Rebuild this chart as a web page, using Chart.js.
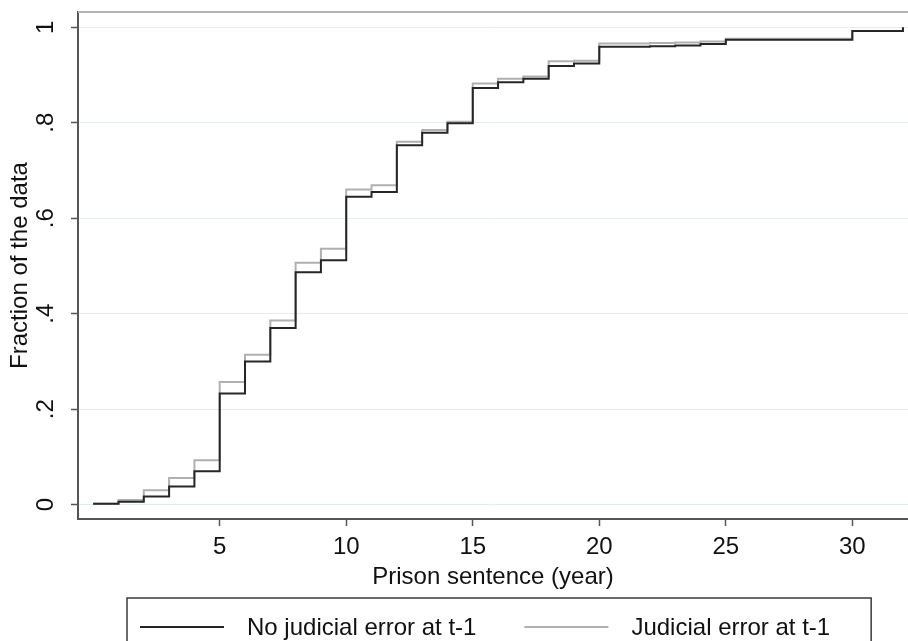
<!DOCTYPE html>
<html>
<head>
<meta charset="utf-8">
<script src="https://cdn.jsdelivr.net/npm/chart.js@4/dist/chart.umd.min.js"></script>
<style>
  html, body { margin: 0; padding: 0; background: #fff; }
  #wrap { width: 908px; height: 641px; }
</style>
</head>
<body>
<div id="wrap"><canvas id="chartCdf" width="908" height="641"></canvas></div>
<script>
  // sentence length (years) where the cumulative share steps up
  const years = [0, 1, 2, 3, 4, 5, 6, 7, 8, 9, 10, 11, 12, 13, 14, 15, 16, 17, 18, 19, 20, 22, 23, 24, 25, 30, 32];
  const noErrorShare = [
    0.002, 0.006, 0.017, 0.038, 0.07, 0.233, 0.30, 0.37, 0.487, 0.512, 0.645,
    0.655, 0.753, 0.779, 0.799, 0.873, 0.885, 0.892, 0.919, 0.924, 0.959,
    0.960, 0.962, 0.965, 0.974, 0.992, 1.0,
  ];
  const errorShare = [
    0.002, 0.01, 0.03, 0.056, 0.093, 0.257, 0.314, 0.386, 0.507, 0.536, 0.660,
    0.669, 0.760, 0.785, 0.802, 0.882, 0.892, 0.897, 0.929, 0.930, 0.966,
    0.967, 0.968, 0.970, 0.976, 0.992, 1.0,
  ];
  const seriesLabels = ["No judicial error at t-1", "Judicial error at t-1"];
  const xTickValues = [5, 10, 15, 20, 25, 30];
  const yTickValues = [0, 0.2, 0.4, 0.6, 0.8, 1];
  const yTickLabels = ["0", ".2", ".4", ".6", ".8", "1"];

  const FONT = "'Liberation Sans', Arial, sans-serif";
  const DARK = "#262626";
  const LIGHT = "#b0b0b0";

  const toPoints = (xs, ys) => xs.map((x, i) => ({ x: x, y: ys[i] }));

  // top frame line of the plot region
  const framePlugin = {
    id: "frame",
    beforeDatasetsDraw(chart) {
      const { ctx, chartArea } = chart;
      ctx.save();
      ctx.strokeStyle = "#b4b4b4";
      ctx.lineWidth = 2;
      ctx.beginPath();
      ctx.moveTo(chartArea.left, chartArea.top);
      ctx.lineTo(chartArea.right, chartArea.top);
      ctx.stroke();
      ctx.restore();
    },
  };

  // boxed legend under the x axis title
  const boxLegend = {
    id: "boxLegend",
    afterDraw(chart) {
      const { ctx, chartArea } = chart;
      const sets = chart.data.datasets;
      ctx.save();
      ctx.font = "24px " + FONT;
      const lineLen = 84, gapText = 23, gapItem = 48, padL = 13, padR = 41;
      let total = padL + padR;
      sets.forEach((d, i) => {
        total += lineLen + gapText + ctx.measureText(d.label).width;
        if (i > 0) total += gapItem;
      });
      const left = Math.round((chartArea.left + chartArea.right) / 2 - total / 2) + 6;
      const top = 598, midY = 627;
      ctx.strokeStyle = "#3a3a3a";
      ctx.lineWidth = 1.5;
      ctx.strokeRect(left, top, total, 70);
      let x = left + padL;
      ctx.textBaseline = "middle";
      ctx.textAlign = "left";
      sets.forEach((d, i) => {
        if (i > 0) x += gapItem;
        ctx.strokeStyle = d.borderColor;
        ctx.lineWidth = 2;
        ctx.beginPath();
        ctx.moveTo(x, midY);
        ctx.lineTo(x + lineLen, midY);
        ctx.stroke();
        x += lineLen + gapText;
        ctx.fillStyle = "#111";
        ctx.fillText(d.label, x, midY + 1);
        x += ctx.measureText(d.label).width;
      });
      ctx.restore();
    },
  };

  const data = {
    datasets: [
      {
        label: seriesLabels[0],
        data: toPoints(years, noErrorShare),
        borderColor: DARK,
        backgroundColor: DARK,
        borderWidth: 2,
        stepped: "before",
        pointRadius: 0,
      },
      {
        label: seriesLabels[1],
        data: toPoints(years, errorShare),
        borderColor: LIGHT,
        backgroundColor: LIGHT,
        borderWidth: 2,
        stepped: "before",
        pointRadius: 0,
      },
    ],
  };

  const config = {
    type: "line",
    data,
    plugins: [framePlugin, boxLegend],
    options: {
      responsive: false,
      animation: false,
      layout: { padding: { top: 12, right: 0, bottom: 43, left: 0 } },
      plugins: { legend: { display: false }, tooltip: { enabled: false } },
      scales: {
        x: {
          type: "linear",
          min: -0.6,
          max: 32.2,
          afterBuildTicks: (s) => { s.ticks = xTickValues.map((v) => ({ value: v })); },
          afterFit: (s) => { s.height = 79; },
          grid: { drawOnChartArea: false, tickLength: 7, tickColor: "#555", tickWidth: 1.5 },
          border: { color: "#555", width: 2 },
          ticks: {
            padding: 7,
            color: "#111",
            font: { family: FONT, size: 24 },
            maxRotation: 0,
            callback: (v) => String(v),
          },
          title: {
            display: true,
            text: "Prison sentence (year)",
            color: "#111",
            font: { family: FONT, size: 24 },
            padding: { top: 0, bottom: 6 },
          },
        },
        y: {
          type: "linear",
          min: -0.03,
          max: 1.032,
          afterBuildTicks: (s) => { s.ticks = yTickValues.map((v) => ({ value: v })); },
          afterFit: (s) => {
            s.width = 78;
            s.paddingTop = 0;
            s.paddingBottom = 0;
          },
          grid: { color: "#e4eeef", lineWidth: 1, tickLength: 7, tickColor: "#555", tickWidth: 1.5 },
          border: { color: "#555", width: 2 },
          ticks: {
            padding: 15,
            color: "#111",
            crossAlign: "center",
            minRotation: 90,
            maxRotation: 90,
            font: { family: FONT, size: 24 },
            callback: (v) => yTickLabels[yTickValues.indexOf(v)],
          },
          title: {
            display: true,
            text: "Fraction of the data",
            color: "#111",
            font: { family: FONT, size: 24 },
            padding: { top: 6, bottom: 0 },
          },
        },
      },
    },
  };

  var chartCdf = new Chart(document.getElementById("chartCdf"), config);
</script>
</body>
</html>
